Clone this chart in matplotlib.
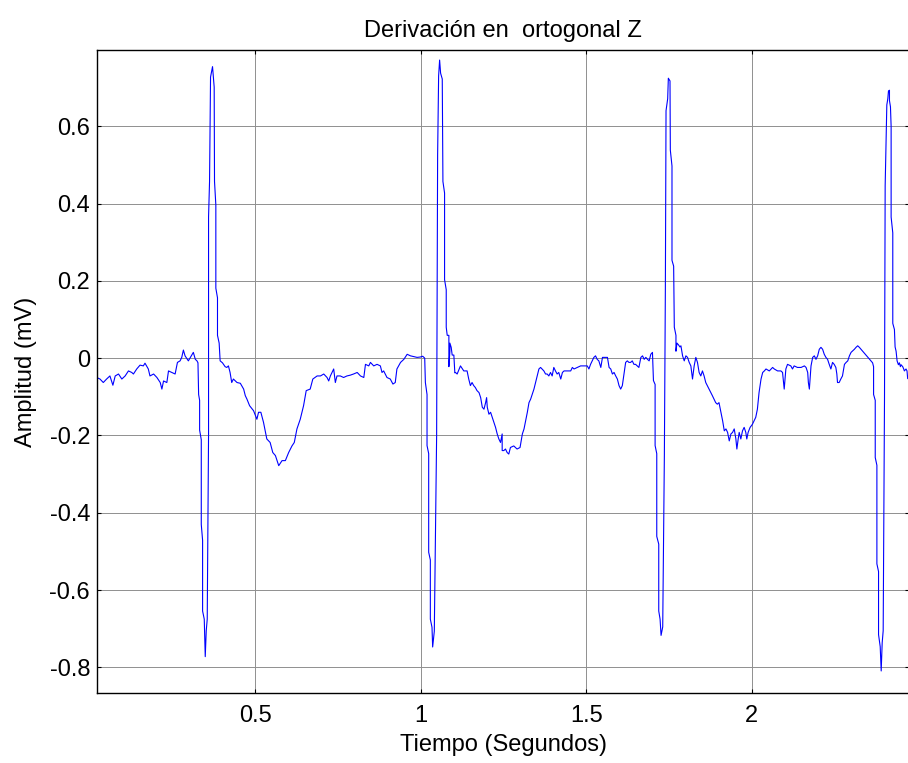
import matplotlib
matplotlib.use('Agg')
import matplotlib.pyplot as plt
import numpy as np

plt.rcParams['font.family'] = ['Liberation Sans', 'DejaVu Sans']
plt.rcParams['axes.unicode_minus'] = False

# Puntos (tiempo en s, amplitud en mV), por tramos
tramo_inicio = [
    (0.015, -0.050), (0.021, -0.050), (0.031, -0.054), (0.041, -0.063), (0.051, -0.054),
    (0.061, -0.046), (0.070, -0.070), (0.077, -0.046), (0.087, -0.041), (0.097, -0.054),
    (0.107, -0.046), (0.117, -0.033), (0.127, -0.037), (0.132, -0.041), (0.142, -0.028),
    (0.152, -0.018), (0.162, -0.020), (0.167, -0.013), (0.177, -0.028), (0.182, -0.046),
    (0.193, -0.041), (0.203, -0.050), (0.213, -0.063), (0.218, -0.080), (0.223, -0.059),
    (0.233, -0.063), (0.238, -0.033), (0.248, -0.037), (0.258, -0.041), (0.265, -0.011),
    (0.273, -0.007), (0.278, 0.002), (0.283, 0.021), (0.288, 0.006), (0.298, -0.007),
    (0.313, 0.015), (0.319, -0.003), (0.324, -0.007),
]

qrs_1 = [
    (0.327, -0.012), (0.329, -0.094), (0.332, -0.109), (0.332, -0.186), (0.337, -0.211),
    (0.337, -0.430), (0.341, -0.471), (0.341, -0.654), (0.346, -0.675), (0.349, -0.772),
    (0.352, -0.705), (0.355, -0.675), (0.359, -0.196), (0.359, 0.365), (0.362, 0.457),
    (0.365, 0.727), (0.371, 0.754), (0.376, 0.701), (0.377, 0.457), (0.381, 0.396),
    (0.381, 0.181), (0.386, 0.156), (0.386, 0.059), (0.391, 0.039), (0.394, -0.007),
]

onda_t_1 = [
    (0.401, -0.012), (0.409, -0.022), (0.414, -0.024), (0.419, -0.020), (0.424, -0.037),
    (0.429, -0.063), (0.434, -0.054), (0.445, -0.063), (0.455, -0.065), (0.465, -0.080),
    (0.470, -0.097), (0.475, -0.106), (0.483, -0.123), (0.495, -0.136), (0.505, -0.158),
    (0.510, -0.140), (0.517, -0.140), (0.525, -0.166), (0.535, -0.209), (0.545, -0.218),
    (0.553, -0.244), (0.561, -0.252), (0.571, -0.278), (0.581, -0.265), (0.591, -0.265),
    (0.601, -0.244), (0.611, -0.227), (0.618, -0.218), (0.626, -0.183), (0.636, -0.158),
    (0.646, -0.123), (0.654, -0.084), (0.666, -0.080), (0.674, -0.054), (0.687, -0.046),
    (0.697, -0.046), (0.707, -0.041), (0.717, -0.050), (0.722, -0.059), (0.727, -0.046),
    (0.732, -0.037), (0.737, -0.028), (0.742, -0.063), (0.747, -0.046), (0.757, -0.046),
    (0.767, -0.050), (0.777, -0.046), (0.787, -0.044), (0.797, -0.041), (0.808, -0.037),
    (0.818, -0.046), (0.828, -0.050), (0.833, -0.016), (0.843, -0.020), (0.848, -0.011),
    (0.858, -0.020), (0.868, -0.016), (0.878, -0.020), (0.883, -0.037), (0.888, -0.033),
    (0.898, -0.050), (0.908, -0.054), (0.916, -0.067), (0.923, -0.063), (0.928, -0.028),
    (0.939, -0.011), (0.949, -0.003), (0.959, 0.010), (0.969, 0.006), (0.979, 0.004),
    (0.989, 0.002), (0.999, 0.003), (1.006, 0.005), (1.012, 0.000),
]

qrs_2 = [
    (1.014, -0.063), (1.019, -0.094), (1.019, -0.226), (1.024, -0.247), (1.024, -0.502),
    (1.029, -0.522), (1.029, -0.675), (1.034, -0.696), (1.036, -0.747), (1.041, -0.706),
    (1.048, -0.200), (1.051, 0.525), (1.054, 0.730), (1.057, 0.771), (1.060, 0.737),
    (1.065, 0.722), (1.067, 0.457), (1.072, 0.427), (1.072, 0.203), (1.077, 0.177),
    (1.077, 0.080), (1.080, 0.059), (1.085, 0.059), (1.085, -0.022), (1.088, 0.018),
    (1.088, 0.039), (1.092, 0.028), (1.095, 0.008), (1.100, 0.008), (1.103, -0.038),
]

onda_t_2 = [
    (1.105, -0.037), (1.110, -0.041), (1.120, -0.020), (1.130, -0.033), (1.140, -0.033),
    (1.145, -0.054), (1.150, -0.071), (1.155, -0.063), (1.160, -0.071), (1.165, -0.076),
    (1.170, -0.084), (1.176, -0.089), (1.181, -0.102), (1.186, -0.127), (1.191, -0.132),
    (1.196, -0.115), (1.199, -0.102), (1.201, -0.127), (1.206, -0.145), (1.211, -0.140),
    (1.216, -0.153), (1.221, -0.166), (1.226, -0.179), (1.231, -0.196), (1.236, -0.209),
    (1.241, -0.218), (1.246, -0.196), (1.246, -0.239), (1.251, -0.239), (1.256, -0.235),
    (1.261, -0.244), (1.266, -0.248), (1.271, -0.231), (1.281, -0.227), (1.291, -0.235),
    (1.300, -0.231), (1.307, -0.196), (1.312, -0.183), (1.317, -0.162), (1.322, -0.140),
    (1.327, -0.115), (1.332, -0.106), (1.337, -0.093), (1.342, -0.080), (1.347, -0.063),
    (1.352, -0.046), (1.357, -0.028), (1.362, -0.024), (1.372, -0.033), (1.377, -0.041),
    (1.382, -0.041), (1.387, -0.046), (1.392, -0.037), (1.397, -0.046), (1.402, -0.024),
    (1.407, -0.033), (1.412, -0.041), (1.417, -0.037), (1.423, -0.054), (1.428, -0.037),
    (1.433, -0.033), (1.443, -0.033), (1.453, -0.033), (1.458, -0.024), (1.463, -0.028),
    (1.473, -0.024), (1.483, -0.020), (1.493, -0.020), (1.503, -0.020), (1.508, -0.028),
    (1.513, -0.016), (1.518, -0.007), (1.523, 0.002), (1.528, 0.006), (1.533, -0.003),
    (1.538, -0.007), (1.544, -0.024), (1.549, 0.002), (1.564, 0.002), (1.569, -0.024),
    (1.574, -0.028), (1.579, -0.041), (1.584, -0.037), (1.589, -0.046), (1.594, -0.054),
    (1.599, -0.071), (1.604, -0.080), (1.609, -0.071), (1.614, -0.041), (1.619, -0.011),
    (1.624, -0.007), (1.629, -0.011), (1.634, -0.011), (1.639, -0.007), (1.644, -0.016),
    (1.649, -0.016), (1.654, -0.020), (1.659, -0.024), (1.665, 0.002), (1.670, 0.006),
    (1.675, -0.003), (1.680, 0.002), (1.685, -0.003), (1.690, -0.007), (1.695, 0.010),
    (1.700, 0.015),
]

qrs_3 = [
    (1.703, -0.058), (1.708, -0.068), (1.708, -0.226), (1.713, -0.247), (1.713, -0.461),
    (1.719, -0.481), (1.719, -0.654), (1.723, -0.675), (1.726, -0.717), (1.731, -0.695),
    (1.736, -0.250), (1.739, 0.181), (1.741, 0.640), (1.746, 0.671), (1.748, 0.724),
    (1.753, 0.717), (1.754, 0.538), (1.759, 0.497), (1.759, 0.253), (1.764, 0.238),
    (1.766, 0.080), (1.771, 0.059), (1.771, 0.018), (1.774, 0.039), (1.779, 0.034),
    (1.783, 0.029), (1.786, 0.032),
]

onda_t_3 = [
    (1.791, 0.006), (1.796, -0.007), (1.801, 0.006), (1.806, 0.002), (1.811, -0.011),
    (1.816, -0.020), (1.821, -0.054), (1.826, -0.020), (1.831, 0.002), (1.836, -0.011),
    (1.841, -0.037), (1.846, -0.046), (1.851, -0.033), (1.856, -0.046), (1.861, -0.063),
    (1.871, -0.080), (1.876, -0.089), (1.881, -0.097), (1.891, -0.115), (1.896, -0.119),
    (1.901, -0.115), (1.907, -0.140), (1.912, -0.162), (1.917, -0.188), (1.922, -0.183),
    (1.927, -0.192), (1.932, -0.214), (1.937, -0.196), (1.942, -0.192), (1.947, -0.183),
    (1.952, -0.209), (1.955, -0.235), (1.959, -0.209), (1.962, -0.192), (1.967, -0.209),
    (1.972, -0.188), (1.977, -0.179), (1.982, -0.192), (1.985, -0.209), (1.989, -0.192),
    (1.995, -0.179), (2.002, -0.171), (2.012, -0.153), (2.017, -0.132), (2.022, -0.089),
    (2.028, -0.054), (2.033, -0.037), (2.038, -0.033), (2.043, -0.028), (2.053, -0.033),
    (2.063, -0.024), (2.068, -0.028), (2.078, -0.033), (2.088, -0.033), (2.093, -0.037),
    (2.098, -0.080), (2.103, -0.028), (2.108, -0.016), (2.118, -0.020), (2.123, -0.028),
    (2.128, -0.020), (2.138, -0.024), (2.149, -0.024), (2.159, -0.020), (2.164, -0.024),
    (2.169, -0.037), (2.171, -0.063), (2.174, -0.080), (2.179, -0.020), (2.184, 0.002),
    (2.189, 0.006), (2.194, -0.003), (2.199, 0.006), (2.204, 0.023), (2.209, 0.028),
    (2.214, 0.023), (2.219, 0.010), (2.224, 0.002), (2.229, -0.003), (2.234, -0.016),
    (2.239, -0.028), (2.244, -0.011), (2.249, -0.016), (2.254, -0.024), (2.257, -0.041),
    (2.259, -0.063), (2.264, -0.063), (2.269, -0.054), (2.274, -0.046), (2.280, -0.016),
    (2.285, -0.011), (2.290, -0.007), (2.295, 0.006), (2.300, 0.015), (2.305, 0.019),
    (2.310, 0.023), (2.315, 0.028), (2.320, 0.032), (2.325, 0.028), (2.330, 0.023),
    (2.335, 0.018), (2.340, 0.013), (2.345, 0.008), (2.350, 0.003), (2.355, -0.002),
    (2.360, -0.007), (2.365, -0.012),
]

qrs_4 = [
    (2.368, -0.022), (2.368, -0.094), (2.373, -0.109), (2.373, -0.257), (2.378, -0.277),
    (2.378, -0.532), (2.383, -0.552), (2.383, -0.715), (2.388, -0.746), (2.391, -0.809),
    (2.394, -0.736), (2.397, -0.705), (2.401, -0.104), (2.403, 0.446), (2.408, 0.655),
    (2.411, 0.671), (2.413, 0.691), (2.416, 0.693), (2.416, 0.666), (2.419, 0.650),
    (2.421, 0.599), (2.421, 0.365), (2.426, 0.324), (2.426, 0.090), (2.431, 0.074),
    (2.433, 0.029), (2.436, 0.018), (2.439, -0.007), (2.443, -0.017), (2.446, -0.012),
    (2.449, -0.022), (2.451, -0.017), (2.456, -0.022), (2.459, -0.028), (2.461, -0.033),
    (2.466, -0.028), (2.469, -0.033), (2.471, -0.053), (2.476, -0.045),
]

xticks = [0.5, 1, 1.5, 2]
xtick_labels = ['0.5', '1', '1.5', '2']
yticks = [-0.8, -0.6, -0.4, -0.2, 0, 0.2, 0.4, 0.6]
ytick_labels = ['-0.8', '-0.6', '-0.4', '-0.2', '0', '0.2', '0.4', '0.6']

tramos = [tramo_inicio, qrs_1, onda_t_1, qrs_2, onda_t_2, qrs_3, onda_t_3, qrs_4]
tiempo = np.array([p[0] for tr in tramos for p in tr])
amplitud = np.array([p[1] for tr in tramos for p in tr])

fig = plt.figure(figsize=(9.08, 7.63), dpi=100)
ax = fig.add_axes([97 / 908, 70 / 763, 812 / 908, 643 / 763])

ax.plot(tiempo, amplitud, color='#0000ff', linewidth=0.8)

ax.set_xlim(0.022, 2.475)
ax.set_ylim(-0.866, 0.797)
ax.set_xticks(xticks)
ax.set_xticklabels(xtick_labels)
ax.set_yticks(yticks)
ax.set_yticklabels(ytick_labels)
ax.grid(True, color='#8f8f8f', linewidth=0.7, linestyle='-')
ax.set_axisbelow(True)
ax.tick_params(direction='in', length=3, width=0.8, top=True, right=True,
               labelsize=17)
ax.tick_params(axis='x', pad=9)
ax.tick_params(axis='y', pad=5)
for s in ax.spines.values():
    s.set_linewidth(1.0)

ax.set_title('Derivación en  ortogonal Z', fontsize=17, pad=9)
ax.set_xlabel('Tiempo (Segundos)', fontsize=17, labelpad=5)
ax.set_ylabel('Amplitud (mV)', fontsize=17, labelpad=9)

fig.savefig('out.png', dpi=100)
